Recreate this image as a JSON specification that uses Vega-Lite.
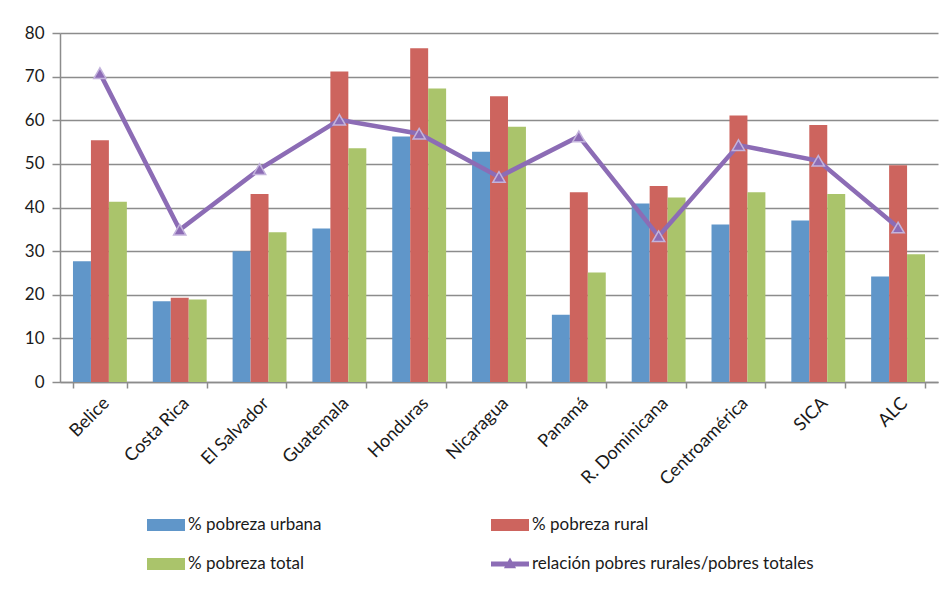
{
  "$schema": "https://vega.github.io/schema/vega-lite/v6.json",
  "description": "Pobreza urbana, rural y total en Centroamérica y relación pobres rurales/pobres totales.",
  "autosize": "none",
  "width": 878,
  "height": 349,
  "padding": {"left": 60, "top": 33, "right": 14, "bottom": 208},
  "data": {
    "values": [
      {"pais": "Belice", "serie": "% pobreza urbana", "valor": 27.7},
      {"pais": "Belice", "serie": "% pobreza rural", "valor": 55.4},
      {"pais": "Belice", "serie": "% pobreza total", "valor": 41.3},
      {"pais": "Belice", "serie": "relación pobres rurales/pobres totales", "valor": 70.8},
      {"pais": "Costa Rica", "serie": "% pobreza urbana", "valor": 18.5},
      {"pais": "Costa Rica", "serie": "% pobreza rural", "valor": 19.3},
      {"pais": "Costa Rica", "serie": "% pobreza total", "valor": 18.9},
      {"pais": "Costa Rica", "serie": "relación pobres rurales/pobres totales", "valor": 34.9},
      {"pais": "El Salvador", "serie": "% pobreza urbana", "valor": 30.0},
      {"pais": "El Salvador", "serie": "% pobreza rural", "valor": 43.1},
      {"pais": "El Salvador", "serie": "% pobreza total", "valor": 34.3},
      {"pais": "El Salvador", "serie": "relación pobres rurales/pobres totales", "valor": 48.8},
      {"pais": "Guatemala", "serie": "% pobreza urbana", "valor": 35.2},
      {"pais": "Guatemala", "serie": "% pobreza rural", "valor": 71.2},
      {"pais": "Guatemala", "serie": "% pobreza total", "valor": 53.6},
      {"pais": "Guatemala", "serie": "relación pobres rurales/pobres totales", "valor": 60.1},
      {"pais": "Honduras", "serie": "% pobreza urbana", "valor": 56.3},
      {"pais": "Honduras", "serie": "% pobreza rural", "valor": 76.5},
      {"pais": "Honduras", "serie": "% pobreza total", "valor": 67.3},
      {"pais": "Honduras", "serie": "relación pobres rurales/pobres totales", "valor": 56.9},
      {"pais": "Nicaragua", "serie": "% pobreza urbana", "valor": 52.8},
      {"pais": "Nicaragua", "serie": "% pobreza rural", "valor": 65.5},
      {"pais": "Nicaragua", "serie": "% pobreza total", "valor": 58.5},
      {"pais": "Nicaragua", "serie": "relación pobres rurales/pobres totales", "valor": 47.0},
      {"pais": "Panamá", "serie": "% pobreza urbana", "valor": 15.4},
      {"pais": "Panamá", "serie": "% pobreza rural", "valor": 43.5},
      {"pais": "Panamá", "serie": "% pobreza total", "valor": 25.1},
      {"pais": "Panamá", "serie": "relación pobres rurales/pobres totales", "valor": 56.3},
      {"pais": "R. Dominicana", "serie": "% pobreza urbana", "valor": 40.9},
      {"pais": "R. Dominicana", "serie": "% pobreza rural", "valor": 44.9},
      {"pais": "R. Dominicana", "serie": "% pobreza total", "valor": 42.3},
      {"pais": "R. Dominicana", "serie": "relación pobres rurales/pobres totales", "valor": 33.4},
      {"pais": "Centroamérica", "serie": "% pobreza urbana", "valor": 36.1},
      {"pais": "Centroamérica", "serie": "% pobreza rural", "valor": 61.1},
      {"pais": "Centroamérica", "serie": "% pobreza total", "valor": 43.5},
      {"pais": "Centroamérica", "serie": "relación pobres rurales/pobres totales", "valor": 54.3},
      {"pais": "SICA", "serie": "% pobreza urbana", "valor": 37.0},
      {"pais": "SICA", "serie": "% pobreza rural", "valor": 58.9},
      {"pais": "SICA", "serie": "% pobreza total", "valor": 43.1},
      {"pais": "SICA", "serie": "relación pobres rurales/pobres totales", "valor": 50.7},
      {"pais": "ALC", "serie": "% pobreza urbana", "valor": 24.2},
      {"pais": "ALC", "serie": "% pobreza rural", "valor": 49.7},
      {"pais": "ALC", "serie": "% pobreza total", "valor": 29.3},
      {"pais": "ALC", "serie": "relación pobres rurales/pobres totales", "valor": 35.4}
    ]
  },
  "encoding": {
    "x": {
      "field": "pais",
      "type": "nominal",
      "sort": null,
      "title": null,
      "scale": {"paddingInner": 0.325, "paddingOuter": 0.1625},
      "axis": {
        "labelAngle": -45,
        "labelPadding": 6,
        "labelFontSize": 18,
        "tickBand": "extent",
        "tickSize": 6,
        "grid": false
      }
    },
    "y": {
      "field": "valor",
      "type": "quantitative",
      "title": null,
      "scale": {"domain": [0, 80], "nice": false},
      "axis": {"values": [0, 10, 20, 30, 40, 50, 60, 70, 80], "tickSize": 8, "labelPadding": 8, "labelFontSize": 17}
    },
    "color": {
      "field": "serie",
      "type": "nominal",
      "title": null,
      "scale": {
        "domain": ["% pobreza urbana", "% pobreza rural", "% pobreza total", "relación pobres rurales/pobres totales"],
        "range": ["#6096c9", "#cd645e", "#aac46b", "#8c6cb5"]
      },
      "legend": {
        "orient": "none",
        "legendX": 87,
        "legendY": 473,
        "direction": "horizontal",
        "columns": 2,
        "columnPadding": 169,
        "rowPadding": 12,
        "symbolSize": 1444,
        "labelOffset": 3,
        "labelFontSize": 17,
        "labelFont": "Lato",
        "labelColor": "#1a1a1a",
        "labelLimit": 400,
        "encode": {
          "symbols": {
            "update": {
              "shape": {"signal": "datum.value === 'relación pobres rurales/pobres totales' ? 'M-1,-0.13H1V0.13H-1Z M-0.32,0.22L0,-0.34L0.32,0.22Z' : 'M-1,-0.32H1V0.32H-1Z'"},
              "fill": {"signal": "scale('color', datum.value)"},
              "stroke": {"value": "transparent"},
              "strokeWidth": {"value": 0},
              "opacity": {"value": 1}
            }
          }
        }
      }
    }
  },
  "layer": [
    {
      "transform": [{"filter": "datum.serie !== 'relación pobres rurales/pobres totales'"}],
      "mark": {"type": "bar"},
      "encoding": {
        "xOffset": {
          "field": "serie",
          "type": "nominal",
          "sort": ["% pobreza urbana", "% pobreza rural", "% pobreza total"],
          "scale": {"paddingInner": 0, "paddingOuter": 0}
        }
      }
    },
    {
      "transform": [{"filter": "datum.serie === 'relación pobres rurales/pobres totales'"}],
      "mark": {"type": "line", "strokeWidth": 4.5},
      "encoding": {}
    },
    {
      "transform": [{"filter": "datum.serie === 'relación pobres rurales/pobres totales'"}],
      "mark": {"type": "point", "shape": "triangle-up", "size": 150, "filled": true, "opacity": 1, "stroke": "#c3b3dc", "strokeWidth": 1.5},
      "encoding": {}
    }
  ],
  "config": {
    "view": {"stroke": null},
    "axis": {
      "labelFont": "Lato",
      "labelFontSize": 16,
      "labelColor": "#1a1a1a",
      "domainColor": "#8c8c8c",
      "domainWidth": 1.5,
      "tickColor": "#8c8c8c",
      "tickWidth": 1.5,
      "gridColor": "#8c8c8c",
      "gridWidth": 1.5
    }
  }
}
